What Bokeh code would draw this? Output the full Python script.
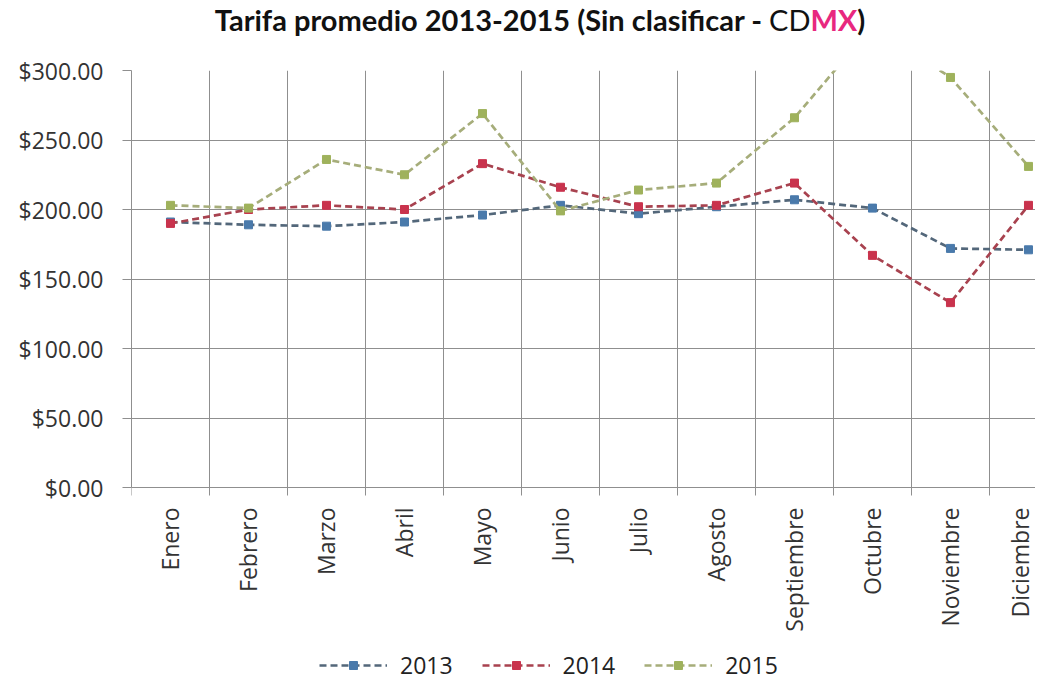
import numpy as np
from bokeh.plotting import figure
from bokeh.models import Range1d, FixedTicker, NumeralTickFormatter, Legend, LegendItem, Div
from bokeh.layouts import column
from bokeh.embed import file_html
from bokeh.resources import INLINE

months = ["Enero", "Febrero", "Marzo", "Abril", "Mayo", "Junio", "Julio",
          "Agosto", "Septiembre", "Octubre", "Noviembre", "Diciembre"]
tarifa_2013 = [191, 189, 188, 191, 196, 203, 197, 202, 207, 201, 172, 171]
tarifa_2014 = [190, 200, 203, 200, 233, 216, 202, 203, 219, 167, 133, 203]
tarifa_2015 = [203, 201, 236, 225, 269, 199, 214, 219, 266, 332, 295, 231]
series_names = ["2013", "2014", "2015"]
y_ticks = [0, 50, 100, 150, 200, 250, 300]

x = list(range(len(months)))
series = [tarifa_2013, tarifa_2014, tarifa_2015]
line_colors = ["#53677a", "#a8424f", "#a6ad7a"]
marker_colors = ["#4a7aab", "#c9334d", "#9fb25c"]

FONT = "Open Sans"
W = 1035
TITLE_H = 40
FIG_H = 648
TOP = 30
PLOT_H = 417                      # pixel height of the 0..300 band
FRAME_H = FIG_H - TOP             # frame reaches the bottom of the canvas
y_lo, y_hi = y_ticks[0], y_ticks[-1]
y_start = y_hi - (y_hi - y_lo) * FRAME_H / PLOT_H

title = Div(text='Tarifa promedio 2013-2015 (Sin clasificar - '
                 '<span style="font-weight:normal">CD</span>'
                 '<span style="color:#e8287f">MX</span>)',
            width=W, height=TITLE_H, margin=(0, 0, 0, 0),
            styles={"font-family": "Lato", "font-weight": "bold", "font-size": "29px",
                    "color": "#111111", "text-align": "center", "line-height": "40px",
                    "width": f"{W}px", "padding-left": "45px", "box-sizing": "border-box"})

p = figure(width=W, height=FIG_H, output_backend="svg", toolbar_location=None,
           x_range=Range1d(-0.5, 11.09), y_range=Range1d(y_start, y_hi),
           min_border_left=131, min_border_right=0, min_border_top=TOP,
           min_border_bottom=0)
p.outline_line_color = None
p.background_fill_color = "white"
p.border_fill_color = "white"

grid_color = "#8f8f8f"
# x axis (fixed at y = 0 inside the frame)
xa = p.xaxis[0]
xa.fixed_location = y_lo
xa.ticker = FixedTicker(ticks=x, minor_ticks=[i - 0.5 for i in range(len(months) + 1)])
xa.major_label_overrides = {i: m for i, m in zip(x, months)}
xa.major_label_orientation = np.pi / 2
xa.major_tick_out = 0
xa.major_tick_in = 0
xa.minor_tick_out = 8
xa.minor_tick_in = 0
xa.minor_tick_line_color = grid_color
xa.axis_line_color = grid_color
xa.major_label_standoff = 12
xa.major_label_text_font = FONT
xa.major_label_text_font_size = "23px"
xa.major_label_text_color = "#333333"

# y axis
ya = p.yaxis[0]
ya.bounds = (y_lo, y_hi)
ya.ticker = FixedTicker(ticks=y_ticks)
ya.formatter = NumeralTickFormatter(format="$0.00")
ya.major_tick_out = 9
ya.major_tick_in = 0
ya.minor_tick_out = 0
ya.minor_tick_in = 0
ya.major_tick_line_color = grid_color
ya.axis_line_color = grid_color
ya.major_label_standoff = 19
ya.major_label_text_font = FONT
ya.major_label_text_font_size = "23px"
ya.major_label_text_color = "#333333"

boundaries = [i + 0.5 for i in range(len(months) - 1)]
xg = p.xgrid[0]
if "cross_bounds" in xg.properties():
    xg.ticker = FixedTicker(ticks=boundaries)
    xg.cross_bounds = (y_lo, y_hi)
    xg.grid_line_color = grid_color
else:
    xg.visible = False
    p.segment(x0=boundaries, y0=[y_lo] * len(boundaries), x1=boundaries,
              y1=[y_hi] * len(boundaries), line_color=grid_color, line_width=1)
p.ygrid.grid_line_color = grid_color

items = []
for name, vals, lc, mc in zip(series_names, series, line_colors, marker_colors):
    r1 = p.line(x, vals, line_color=lc, line_width=2.7, line_dash="7 4")
    r2 = p.scatter(x, vals, marker="square", size=8, fill_color=mc, line_color=mc)
    items.append(LegendItem(label=name, renderers=[r1, r2]))

legend = Legend(items=items, orientation="horizontal", location=(188, 7),
                border_line_color=None, background_fill_alpha=0,
                label_text_font=FONT, label_text_font_size="23px",
                label_text_color="#222222",
                glyph_width=68, glyph_height=20, label_standoff=13, spacing=29,
                padding=4, margin=0)
p.add_layout(legend, "center")

layout = column(title, p, spacing=0)
open("out.html", "w").write(file_html(layout, INLINE))
